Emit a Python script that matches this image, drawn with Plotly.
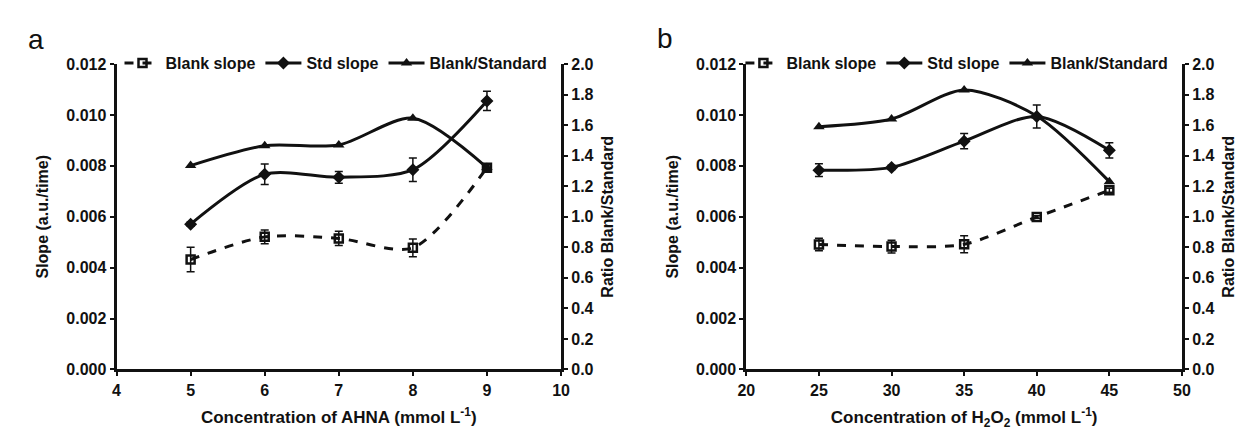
import plotly.graph_objects as go

# Panel a data
x_a = [5, 6, 7, 8, 9]
blank_a = [0.00432, 0.00521, 0.00515, 0.00478, 0.00793]
blank_a_err = [0.00048, 0.00027, 0.00028, 0.00035, 0.00010]
std_a = [0.00571, 0.00767, 0.00755, 0.00785, 0.01055]
std_a_err = [0.00008, 0.00040, 0.00023, 0.00046, 0.00038]
ratio_a = [1.335, 1.465, 1.47, 1.645, 1.322]

# Panel b data
x_b = [25, 30, 35, 40, 45]
blank_b = [0.00491, 0.00483, 0.00492, 0.00599, 0.00704]
blank_b_err = [0.00025, 0.00025, 0.00033, 0.00005, 0.00008]
std_b = [0.00783, 0.00794, 0.00897, 0.00994, 0.00861]
std_b_err = [0.00025, 0.00008, 0.00030, 0.00045, 0.00030]
ratio_b = [1.59, 1.64, 1.83, 1.66, 1.23]

FONT = "Liberation Sans, Arial, sans-serif"
BLACK = "#111111"

fig = go.Figure()

def add_panel(x, blank, blank_err, std, std_err, ratio, xa, ya, ya2, legend):
    fig.add_trace(go.Scatter(
        x=x, y=blank, name="Blank slope", mode="lines+markers",
        line=dict(color=BLACK, width=3, dash="dash", shape="spline", smoothing=0.8),
        marker=dict(symbol="square-open", size=8, color=BLACK, line=dict(width=2.5, color=BLACK)),
        error_y=dict(type="data", array=blank_err, color=BLACK, thickness=1.5, width=4),
        xaxis=xa, yaxis=ya, legend=legend))
    fig.add_trace(go.Scatter(
        x=x, y=std, name="Std slope", mode="lines+markers",
        line=dict(color=BLACK, width=3, shape="spline", smoothing=0.8),
        marker=dict(symbol="diamond", size=10, color=BLACK),
        error_y=dict(type="data", array=std_err, color=BLACK, thickness=1.5, width=4),
        xaxis=xa, yaxis=ya, legend=legend))
    fig.add_trace(go.Scatter(
        x=x, y=ratio, name="Blank/Standard", mode="lines+markers",
        line=dict(color=BLACK, width=3, shape="spline", smoothing=0.8),
        marker=dict(symbol="triangle-up", size=10, color=BLACK),
        xaxis=xa, yaxis=ya2, legend=legend))

add_panel(x_a, blank_a, blank_a_err, std_a, std_a_err, ratio_a, "x", "y", "y2", "legend")
add_panel(x_b, blank_b, blank_b_err, std_b, std_b_err, ratio_b, "x2", "y3", "y4", "legend2")

W, H = 1248, 431
xa_dom = [101 / W, 552 / W]
xb_dom = [740 / W, 1182 / W]
y_dom = [(H - 368) / H, (H - 50) / H]

tickfont = dict(family=FONT, size=16, color=BLACK, weight="bold")
titlefont = dict(family=FONT, size=16, color=BLACK, weight="bold")
xtitlefont = dict(family=FONT, size=17, color=BLACK, weight="bold")

def xaxis(dom, rng, dtick, title, anchor):
    return dict(domain=dom, range=rng, dtick=dtick, anchor=anchor,
                showline=True, linewidth=3, linecolor=BLACK, ticks="outside",
                ticklen=4, tickwidth=2, tickcolor=BLACK, showgrid=False, zeroline=False,
                tickfont=tickfont, title=dict(text=title, font=xtitlefont, standoff=14))

def yaxis(anchor, title, side="left", overlaying=None, rng=(0, 0.012), dtick=0.002, fmt=".3f", standoff=14):
    d = dict(domain=y_dom, range=list(rng), dtick=dtick, tickformat=fmt, anchor=anchor, side=side,
             showline=True, linewidth=3, linecolor=BLACK, ticks="outside",
             ticklen=4, tickwidth=2, tickcolor=BLACK, showgrid=False, zeroline=False,
             tickfont=tickfont, title=dict(text=title, font=titlefont, standoff=standoff))
    if overlaying:
        d["overlaying"] = overlaying
    return d

legend_common = dict(orientation="h", font=dict(family=FONT, size=16, color=BLACK, weight="bold"),
                     bgcolor="rgba(0,0,0,0)", yanchor="middle", xanchor="left",
                     tracegroupgap=0, itemwidth=36)

fig.update_layout(
    width=W, height=H, margin=dict(l=0, r=0, t=0, b=0),
    paper_bgcolor="white", plot_bgcolor="white",
    xaxis=xaxis(xa_dom, [4, 10], 1, "Concentration of AHNA (mmol L<sup>-1</sup>)", "y"),
    xaxis2=xaxis(xb_dom, [20, 50], 5, "Concentration of H<sub>2</sub>O<sub>2</sub> (mmol L<sup>-1</sup>)", "y3"),
    yaxis=yaxis("x", "Slope (a.u./time)"),
    yaxis2=yaxis("x", "Ratio Blank/Standard", side="right", overlaying="y", rng=(0, 2), dtick=0.2, fmt=".1f", standoff=10),
    yaxis3=yaxis("x2", "Slope (a.u./time)"),
    yaxis4=yaxis("x2", "Ratio Blank/Standard", side="right", overlaying="y3", rng=(0, 2), dtick=0.2, fmt=".1f", standoff=10),
    legend=dict(x=104 / W, y=(H - 49) / H, **legend_common),
    legend2=dict(x=734 / W, y=(H - 49) / H, **legend_common),
    annotations=[
        dict(text="a", x=19 / W, y=(H - 24) / H, xref="paper", yref="paper", showarrow=False,
             xanchor="center", yanchor="middle", font=dict(family=FONT, size=28, color=BLACK)),
        dict(text="b", x=657 / W, y=(H - 23) / H, xref="paper", yref="paper", showarrow=False,
             xanchor="center", yanchor="middle", font=dict(family=FONT, size=28, color=BLACK)),
    ],
)

fig.write_html("out.html")
